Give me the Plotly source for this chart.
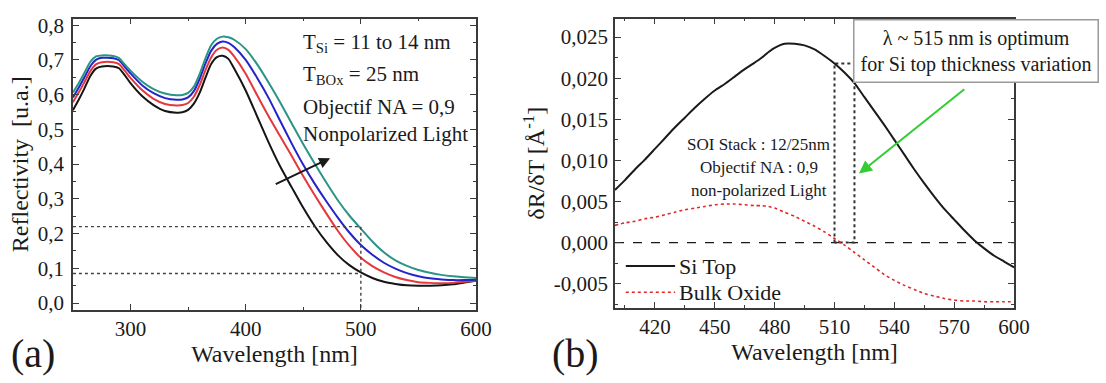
import plotly.graph_objects as go

# ---------------- data: panel (a) reflectivity spectra ----------------
wl_a = [250, 255, 260, 265, 270, 275, 285, 290, 295, 300, 310, 320, 330, 340, 345,
        350, 355, 360, 365, 370, 375, 380, 385, 390, 400, 410, 420, 430, 440, 450,
        460, 470, 480, 490, 500, 510, 520, 530, 540, 550, 560, 570, 580, 590, 600]

refl_11nm = [0.555, 0.585, 0.618, 0.653, 0.675, 0.681, 0.681, 0.676, 0.656, 0.633, 0.596, 0.570,
             0.553, 0.548, 0.549, 0.556, 0.574, 0.605, 0.648, 0.688, 0.708, 0.712, 0.703, 0.675,
             0.612, 0.537, 0.462, 0.393, 0.333, 0.274, 0.221, 0.176, 0.138, 0.109, 0.088, 0.072,
             0.061, 0.055, 0.051, 0.050, 0.050, 0.051, 0.054, 0.059, 0.064]
refl_12nm = [0.578, 0.606, 0.636, 0.667, 0.687, 0.693, 0.693, 0.688, 0.669, 0.648, 0.613, 0.588,
             0.573, 0.569, 0.570, 0.576, 0.594, 0.627, 0.670, 0.707, 0.729, 0.736, 0.729, 0.710,
             0.660, 0.598, 0.537, 0.480, 0.423, 0.365, 0.310, 0.258, 0.208, 0.165, 0.130, 0.106,
             0.088, 0.075, 0.066, 0.060, 0.058, 0.057, 0.058, 0.061, 0.064]
refl_13nm = [0.592, 0.620, 0.650, 0.681, 0.700, 0.706, 0.705, 0.699, 0.680, 0.661, 0.627, 0.604,
             0.590, 0.585, 0.586, 0.592, 0.610, 0.645, 0.689, 0.726, 0.746, 0.753, 0.749, 0.737,
             0.700, 0.648, 0.590, 0.524, 0.459, 0.398, 0.343, 0.293, 0.246, 0.203, 0.167, 0.139,
             0.116, 0.099, 0.086, 0.077, 0.071, 0.068, 0.066, 0.066, 0.067]
refl_14nm = [0.606, 0.633, 0.663, 0.694, 0.710, 0.713, 0.711, 0.705, 0.687, 0.669, 0.638, 0.616,
             0.603, 0.598, 0.599, 0.605, 0.623, 0.659, 0.704, 0.742, 0.761, 0.767, 0.765, 0.758,
             0.731, 0.687, 0.634, 0.577, 0.517, 0.457, 0.401, 0.347, 0.296, 0.252, 0.214, 0.177,
             0.146, 0.123, 0.107, 0.095, 0.087, 0.081, 0.077, 0.074, 0.072]

# reference levels read at 500 nm
lambda_ref = 500
level_hi = 0.22
level_lo = 0.085

# ---------------- data: panel (b) sensitivity dR/dT ----------------
wl_b = [400, 405, 410, 415, 420, 425, 430, 435, 440, 445, 450, 455, 460, 465, 470, 473,
        477, 480, 485, 490, 495, 500, 505, 510, 515, 520, 525, 530, 535, 540, 545, 550,
        555, 560, 565, 570, 575, 580, 585, 590, 595, 600]
si_top = [0.0064, 0.0076, 0.0089, 0.0101, 0.0114, 0.0127, 0.0140, 0.0152, 0.0164, 0.0175,
          0.0185, 0.0193, 0.0202, 0.0211, 0.0219, 0.0224, 0.0232, 0.0237, 0.0242, 0.0242,
          0.0240, 0.0235, 0.0227, 0.0218, 0.0207, 0.0194, 0.0177, 0.0160, 0.0143, 0.0125,
          0.0107, 0.0089, 0.0072, 0.0056, 0.0041, 0.0028, 0.0015, 0.0003, -0.0007, -0.0016,
          -0.0023, -0.0030]
bulk_oxide = [0.0021, 0.0024, 0.0026, 0.0029, 0.0031, 0.0034, 0.0037, 0.0040, 0.0042, 0.0044,
              0.0046, 0.0047, 0.0047, 0.0046, 0.0045, 0.0045, 0.0044, 0.0042, 0.0037, 0.0032,
              0.0026, 0.0020, 0.0013, 0.0005, -0.0003, -0.0012, -0.0021, -0.0030, -0.0039,
              -0.0046, -0.0052, -0.0057, -0.0062, -0.0065, -0.0068, -0.0070, -0.0071, -0.0071,
              -0.0072, -0.0072, -0.0072, -0.0072]

# optimum window (nm) and its upper bound on dR/dT
window_lo, window_hi = 510, 520
window_top = 0.0218

# ---------------- tick labels ----------------
ya_vals = [0.0, 0.1, 0.2, 0.3, 0.4, 0.5, 0.6, 0.7, 0.8]
ya_text = ["0,0", "0,1", "0,2", "0,3", "0,4", "0,5", "0,6", "0,7", "0,8"]
xa_vals = [300, 400, 500, 600]
yb_vals = [-0.005, 0.0, 0.005, 0.010, 0.015, 0.020, 0.025]
yb_text = ["-0,005", "0,000", "0,005", "0,010", "0,015", "0,020", "0,025"]
xb_vals = [420, 450, 480, 510, 540, 570, 600]

W, H = 1106, 383
SERIF = "Liberation Serif"
INK = "#1a1a1a"
AXIS = "#3a3a3a"
OXIDE_RED = "#e02828"

fig = go.Figure()

curve_colors = ["#151515", "#e5383b", "#2424c8", "#2a9485"]
for vals, col in zip([refl_11nm, refl_12nm, refl_13nm, refl_14nm], curve_colors):
    fig.add_trace(go.Scatter(x=wl_a, y=vals, mode="lines", showlegend=False,
                             line=dict(color=col, width=2, shape="spline", smoothing=0.6),
                             xaxis="x", yaxis="y"))

# dotted guide lines on panel (a)
fig.add_trace(go.Scatter(x=[250, lambda_ref, lambda_ref], y=[level_hi, level_hi, -0.02],
                         mode="lines", showlegend=False,
                         line=dict(color="#444", width=1.4, dash="dot"), xaxis="x", yaxis="y"))
fig.add_trace(go.Scatter(x=[250, lambda_ref], y=[level_lo, level_lo],
                         mode="lines", showlegend=False,
                         line=dict(color="#444", width=1.4, dash="dot"), xaxis="x", yaxis="y"))

# zero line, optimum window and curves of panel (b)
fig.add_trace(go.Scatter(x=[400, 600], y=[0, 0], mode="lines", showlegend=False,
                         line=dict(color=INK, width=1.3, dash="dash"), xaxis="x2", yaxis="y2"))
fig.add_trace(go.Scatter(x=[window_lo, window_lo, window_hi, window_hi, window_lo],
                         y=[0, window_top, window_top, 0, 0], mode="lines", showlegend=False,
                         line=dict(color="#333", width=2, dash="dot"), xaxis="x2", yaxis="y2"))
fig.add_trace(go.Scatter(x=wl_b, y=si_top, mode="lines", name="Si Top", showlegend=False,
                         line=dict(color=INK, width=2, shape="spline", smoothing=0.5),
                         xaxis="x2", yaxis="y2"))
fig.add_trace(go.Scatter(x=wl_b, y=bulk_oxide, mode="lines", name="Bulk Oxide", showlegend=False,
                         line=dict(color=OXIDE_RED, width=1.6, dash="dot", shape="spline", smoothing=0.5),
                         xaxis="x2", yaxis="y2"))


def axis(domain, rng, anchor, **kw):
    d = dict(domain=domain, range=rng, anchor=anchor, showgrid=False, zeroline=False,
             showline=True, linecolor=AXIS, linewidth=1.5, mirror="allticks",
             ticks="inside", ticklen=6, tickwidth=1.3, tickcolor=AXIS,
             tickfont=dict(family=SERIF, size=21, color=INK))
    d.update(kw)
    return d


fig.update_layout(
    width=W, height=H,
    margin=dict(l=0, r=0, t=0, b=0),
    paper_bgcolor="white", plot_bgcolor="white",
    font=dict(family=SERIF, color=INK),
    showlegend=False,
    xaxis=axis([74 / W, 483 / W], [250, 600], "y",
               tickvals=xa_vals, ticklabelstandoff=-1,
               minor=dict(dtick=50, tick0=0, ticks="inside", ticklen=3, tickcolor=AXIS),
               title=dict(text="Wavelength [nm]", font=dict(family=SERIF, size=24, color=INK),
                          standoff=2)),
    yaxis=axis([1 - 313 / H, 1 - 14 / H], [-0.0196, 0.8188], "x",
               tickvals=ya_vals, ticktext=ya_text, ticklabelstandoff=3,
               minor=dict(dtick=0.05, tick0=0, ticks="inside", ticklen=3, tickcolor=AXIS),
               title=dict(text="Reflectivity  [u.a.]", font=dict(family=SERIF, size=24, color=INK),
                          standoff=2)),
    xaxis2=axis([624 / W, 1029 / W], [400, 600], "y2",
                tickvals=xb_vals, ticklabelstandoff=-1,
                minor=dict(dtick=15, tick0=0, ticks="inside", ticklen=3, tickcolor=AXIS),
                title=dict(text="Wavelength [nm]", font=dict(family=SERIF, size=24, color=INK),
                           standoff=2)),
    yaxis2=axis([1 - 311 / H, 1 - 14 / H], [-0.00794, 0.02725], "x2",
                tickvals=yb_vals, ticktext=yb_text, ticklabelstandoff=1,
                minor=dict(dtick=0.0025, tick0=0, ticks="inside", ticklen=3, tickcolor=AXIS),
                title=dict(text="δR/δT [Å<sup>-1</sup>]", font=dict(family=SERIF, size=24, color=INK),
                           standoff=2)),
)

# legend keys of panel (b)
legend_rows = [("Si Top", INK, "solid", 268), ("Bulk Oxide", OXIDE_RED, "dot", 295)]
shapes = []
ann = []
for label, col, dash, yp in legend_rows:
    shapes.append(dict(type="line", xref="paper", yref="paper",
                       x0=635 / W, x1=685 / W, y0=1 - yp / H, y1=1 - yp / H,
                       line=dict(color=col, width=2 if dash == "solid" else 1.6, dash=dash)))
    ann.append(dict(text=label, x=687 / W, y=1 - yp / H, xref="paper", yref="paper",
                    xanchor="left", yanchor="middle", showarrow=False,
                    font=dict(family=SERIF, size=22, color=INK)))

# panel (a) text block
left_lines = [("T<sub>Si</sub> = 11 to 14 nm", 39), ("T<sub>BOx</sub> = 25 nm", 72),
              ("Objectif NA = 0,9", 105), ("Nonpolarized Light", 132)]
for txt, yp in left_lines:
    ann.append(dict(text=txt, x=305 / W, y=1 - yp / H, xref="paper", yref="paper",
                    xanchor="left", yanchor="middle", showarrow=False,
                    font=dict(family=SERIF, size=21, color=INK)))
# thickness trend arrow
ann.append(dict(x=473.3, y=0.417, ax=424.8, ay=0.34, xref="x", yref="y", axref="x", ayref="y",
                showarrow=True, arrowhead=2, arrowsize=1.1, arrowwidth=2, arrowcolor=INK,
                standoff=0, text=""))
# panel (b) stack description
soi_lines = [("SOI Stack : 12/25nm", 143), ("Objectif NA : 0,9", 167), ("non-polarized Light", 190)]
for txt, yp in soi_lines:
    ann.append(dict(text=txt, x=770 / W, y=1 - yp / H, xref="paper", yref="paper",
                    xanchor="center", yanchor="middle", showarrow=False,
                    font=dict(family=SERIF, size=17, color=INK)))
# optimum callout
ann.append(dict(text="λ ~ 515 nm is optimum<br>for Si top thickness variation",
                x=990 / W, y=1 - 47 / H, xref="paper", yref="paper",
                xanchor="center", yanchor="middle", showarrow=False, align="center",
                bgcolor="white", bordercolor="#9a9a9a", borderwidth=1.5, borderpad=6,
                font=dict(family=SERIF, size=20, color=INK)))
ann.append(dict(x=522.3, y=0.0084, ax=575.8, ay=0.0188, xref="x2", yref="y2", axref="x2", ayref="y2",
                showarrow=True, arrowhead=2, arrowsize=1.3, arrowwidth=2, arrowcolor="#33cc33",
                standoff=0, text=""))
# panel labels
ann.append(dict(text="(a)", x=33 / W, y=0, xref="paper", yref="paper",
                xanchor="center", yanchor="bottom", showarrow=False,
                font=dict(family=SERIF, size=40, color=INK)))
ann.append(dict(text="(b)", x=584 / W, y=0, xref="paper", yref="paper",
                xanchor="center", yanchor="bottom", showarrow=False,
                font=dict(family=SERIF, size=40, color=INK)))
fig.update_layout(annotations=ann, shapes=shapes)

fig.write_html("out.html")
